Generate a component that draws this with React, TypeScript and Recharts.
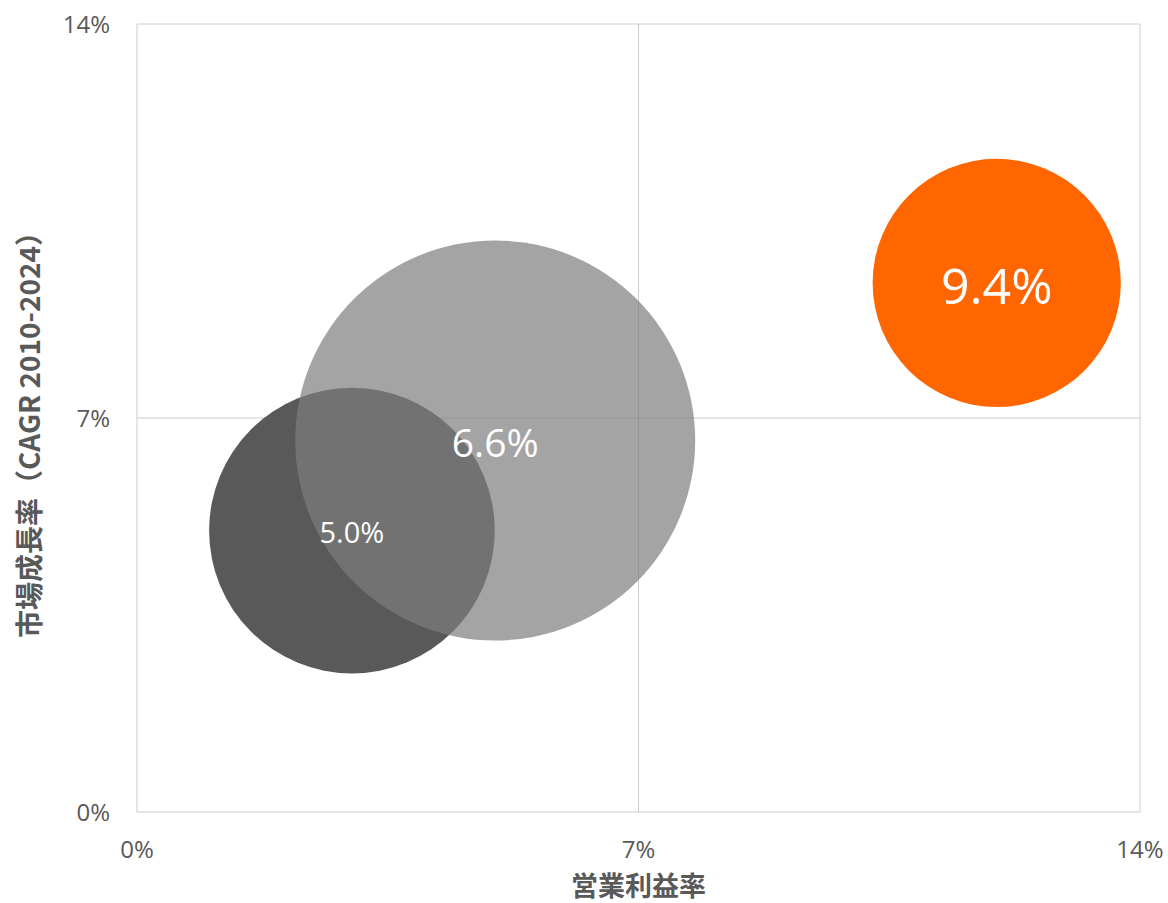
import { ScatterChart, Scatter, XAxis, YAxis, ZAxis, CartesianGrid, Cell, LabelList, Label } from 'recharts';

// Bubble data: operating margin (x), market CAGR (y), bubble size (z)
const names = ['A', 'B', 'C'];
const margins = [3.0, 5.0, 12.0];
const growth = [5.0, 6.6, 9.4];
const sizes = [20.4, 40, 15.4];
const labels = ['5.0%', '6.6%', '9.4%'];
const ticks = [0, 7, 14];

const fills = ['#595959', '#7e7e7e', '#ff6600'];
const opacities = [1, 0.7, 1];
const labelSizes = [29, 39, 50];

const FONT = '"Open Sans", "Noto Sans CJK JP", sans-serif';
const JP_FONT = '"Noto Sans CJK JP", sans-serif';
const TEXT = '#595959';
const GRID = '#cccccc';

const data = names.map((n, i) => ({
  name: n,
  x: margins[i],
  y: growth[i],
  z: sizes[i],
  label: labels[i],
  idx: i,
}));

function XTick(props: any) {
  const { x, y, payload } = props;
  return (
    <text x={x} y={y + 46} textAnchor="middle" fill={TEXT} fontSize={24} fontFamily={FONT}>
      {payload.value}%
    </text>
  );
}

function YTick(props: any) {
  const { x, y, payload } = props;
  return (
    <text x={x - 27} y={y + 9} textAnchor="end" fill={TEXT} fontSize={24} fontFamily={FONT}>
      {payload.value}%
    </text>
  );
}

function BubbleLabel(props: any) {
  const { x, y, width, height, value, index } = props;
  const cx = x + width / 2;
  const cy = y + height / 2;
  const fs = labelSizes[index] ?? 28;
  return (
    <text
      x={cx}
      y={cy + fs * 0.42}
      textAnchor="middle"
      fill="#ffffff"
      fontSize={fs}
      fontFamily={FONT}
    >
      {value}
    </text>
  );
}

export default function App() {
  return (
    <div style={{ position: 'absolute', left: 0, top: 0, background: '#fff' }}>
      <ScatterChart
        width={1168}
        height={903}
        margin={{ top: 24, right: 28, bottom: 0, left: 0 }}
      >
        <CartesianGrid stroke={GRID} strokeWidth={1} />
        <XAxis
          type="number"
          dataKey="x"
          domain={[0, 14]}
          ticks={ticks}
          height={91}
          tickSize={0}
          tickMargin={0}
          axisLine={false}
          tickLine={false}
          tick={<XTick />}
        >
          <Label
            content={(p: any) => {
              const vb = p.viewBox;
              return (
                <text
                  x={vb.x + vb.width / 2}
                  y={vb.y + 84}
                  textAnchor="middle"
                  fill={TEXT}
                  fontSize={27}
                  fontWeight="bold"
                  fontFamily={JP_FONT}
                >
                  営業利益率
                </text>
              );
            }}
          />
        </XAxis>
        <YAxis
          type="number"
          dataKey="y"
          domain={[0, 14]}
          ticks={ticks}
          width={137}
          tickSize={0}
          tickMargin={0}
          axisLine={false}
          tickLine={false}
          tick={<YTick />}
        >
          <Label
            content={(p: any) => {
              const vb = p.viewBox;
              const cx = 40;
              const cy = vb.y + vb.height / 2 + 10;
              return (
                <text
                  x={cx}
                  y={cy}
                  transform={`rotate(-90, ${cx}, ${cy})`}
                  textAnchor="middle"
                  fill={TEXT}
                  fontSize={28}
                  fontWeight="bold"
                  fontFamily={JP_FONT}
                >
                  市場成長率（CAGR 2010-2024）
                </text>
              );
            }}
          />
        </YAxis>
        <ZAxis type="number" dataKey="z" domain={[0, 40]} range={[0, Math.PI * 40000]} />
        <Scatter data={data} isAnimationActive={false} shape="circle">
          {data.map((d, i) => (
            <Cell key={d.name} fill={fills[i]} fillOpacity={opacities[i]} stroke="none" />
          ))}
          <LabelList dataKey="label" content={<BubbleLabel />} />
        </Scatter>
      </ScatterChart>
    </div>
  );
}
